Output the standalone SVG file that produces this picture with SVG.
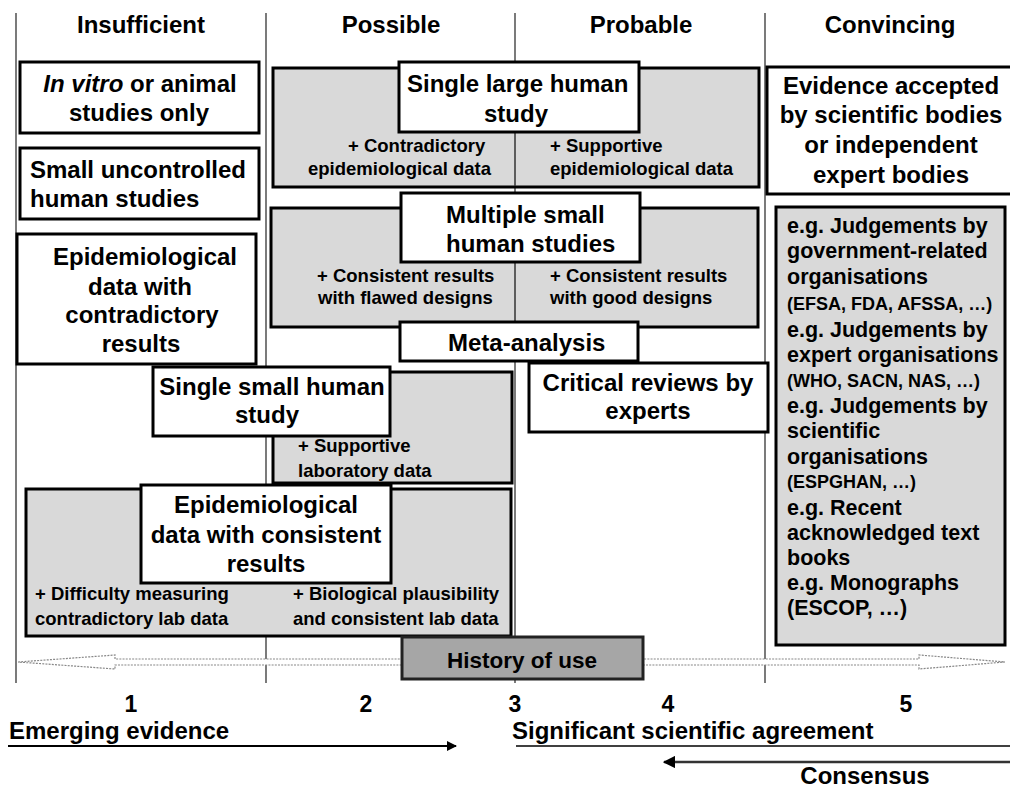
<svg xmlns="http://www.w3.org/2000/svg" width="1010" height="787" viewBox="0 0 1010 787">
<defs>
<style>
.t{font-family:"Liberation Sans",Arial,Helvetica,sans-serif;font-weight:bold;fill:#000}
.h{font-size:24px;text-anchor:middle}
.b{font-size:24px}
.c{text-anchor:middle}
.s{font-size:18.5px}
.r{font-size:21.5px}
.p{font-size:18px}
.n{font-size:23px;text-anchor:middle}
.wb{fill:#fff;stroke:#000;stroke-width:3}
.gb{fill:#d9d9d9;stroke:#000;stroke-width:3}
.col{stroke:#333;stroke-width:1.3;fill:none}
.div{stroke:#333;stroke-width:1.5}
</style>
<marker id="ah" viewBox="0 0 10 10" refX="9" refY="5" markerWidth="5" markerHeight="5" orient="auto-start-reverse" markerUnits="strokeWidth">
<path d="M0,0 L10,5 L0,10 z" fill="#000"/>
</marker>
</defs>
<rect width="1010" height="787" fill="#fff"/>

<g id="columns">
<line class="col" x1="16" y1="13" x2="16" y2="683"/>
<line class="col" x1="266" y1="13" x2="266" y2="683"/>
<line class="col" x1="515" y1="13" x2="515" y2="683"/>
<line class="col" x1="765" y1="13" x2="765" y2="683"/>
</g>

<g id="headers" class="t h">
<text x="141" y="33">Insufficient</text>
<text x="391" y="33">Possible</text>
<text x="641" y="33">Probable</text>
<text x="890" y="33">Convincing</text>
</g>

<g id="in-vitro">
<rect class="wb" x="20" y="62" width="239" height="71"/>
<text class="t b c" x="140" y="92"><tspan font-style="italic">In vitro</tspan> or animal</text>
<text class="t b c" x="139" y="121">studies only</text>
</g>

<g id="small-uncontrolled">
<rect class="wb" x="20" y="148" width="239" height="71"/>
<text class="t b" x="30" y="178">Small uncontrolled</text>
<text class="t b" x="30" y="207">human studies</text>
</g>

<g id="epi-contradictory">
<rect class="wb" x="17" y="234" width="239" height="130"/>
<text class="t b c" x="145" y="265">Epidemiological</text>
<text class="t b c" x="140" y="295">data with</text>
<text class="t b c" x="142" y="323">contradictory</text>
<text class="t b c" x="141" y="352">results</text>
</g>

<g id="single-large-group">
<rect class="gb" x="273" y="68" width="486" height="119"/>
<line class="div" x1="515" y1="69" x2="515" y2="186"/>
<text class="t s" x="348" y="152">+ Contradictory</text>
<text class="t s" x="308" y="175">epidemiological data</text>
<text class="t s" x="550" y="152">+ Supportive</text>
<text class="t s" x="550" y="175">epidemiological data</text>
</g>
<g id="single-large">
<rect class="wb" x="399" y="62" width="240" height="70"/>
<text class="t b" x="407" y="92">Single large human</text>
<text class="t b" x="484" y="122">study</text>
</g>

<g id="multiple-small-group">
<rect class="gb" x="271" y="208" width="487" height="119"/>
<line class="div" x1="515" y1="209" x2="515" y2="326"/>
<text class="t s" x="317" y="282">+ Consistent results</text>
<text class="t s" x="318" y="304">with flawed designs</text>
<text class="t s" x="550" y="282">+ Consistent results</text>
<text class="t s" x="550" y="304">with good designs</text>
</g>
<g id="multiple-small">
<rect class="wb" x="401" y="193" width="239" height="69"/>
<text class="t b" x="446" y="223">Multiple small</text>
<text class="t b" x="446" y="252">human studies</text>
</g>

<g id="meta-analysis">
<rect class="wb" x="400" y="322" width="238" height="39"/>
<text class="t b" x="448" y="351">Meta-analysis</text>
</g>

<g id="single-small-group">
<rect class="gb" x="273" y="372" width="239" height="111"/>
<text class="t s" x="298" y="452">+ Supportive</text>
<text class="t s" x="298" y="477">laboratory data</text>
</g>
<g id="single-small">
<rect class="wb" x="153" y="367" width="237" height="69"/>
<text class="t b c" x="272" y="395">Single small human</text>
<text class="t b c" x="267" y="423">study</text>
</g>

<g id="critical-reviews">
<rect class="wb" x="529" y="363" width="239" height="69"/>
<text class="t b c" x="648" y="391">Critical reviews by</text>
<text class="t b c" x="648" y="419">experts</text>
</g>

<g id="epi-consistent-group">
<rect class="gb" x="26" y="489" width="485" height="147"/>
<text class="t s" x="35" y="600">+ Difficulty measuring</text>
<text class="t s" x="35" y="625">contradictory lab data</text>
<text class="t s" x="293" y="600">+ Biological plausibility</text>
<text class="t s" x="293" y="625">and consistent lab data</text>
</g>
<g id="epi-consistent">
<rect class="wb" x="141" y="485" width="250" height="98"/>
<text class="t b c" x="266" y="513">Epidemiological</text>
<text class="t b c" x="266" y="543">data with consistent</text>
<text class="t b c" x="266" y="572">results</text>
</g>

<g id="evidence-accepted">
<rect class="wb" x="767" y="67" width="246" height="127"/>
<text class="t b c" x="891" y="94">Evidence accepted</text>
<text class="t b c" x="891" y="123">by scientific bodies</text>
<text class="t b c" x="891" y="153">or independent</text>
<text class="t b c" x="891" y="183">expert bodies</text>
</g>

<g id="examples">
<rect class="gb" x="776" y="207" width="229" height="438"/>
<text class="t r" x="787" y="233">e.g. Judgements by</text>
<text class="t r" x="787" y="258">government-related</text>
<text class="t r" x="787" y="284">organisations</text>
<text class="t p" x="787" y="310">(EFSA, FDA, AFSSA, …)</text>
<text class="t r" x="787" y="337">e.g. Judgements by</text>
<text class="t r" x="787" y="362">expert organisations</text>
<text class="t p" x="787" y="387">(WHO, SACN, NAS, …)</text>
<text class="t r" x="787" y="413">e.g. Judgements by</text>
<text class="t r" x="787" y="438">scientific</text>
<text class="t r" x="787" y="464">organisations</text>
<text class="t p" x="787" y="488">(ESPGHAN, …)</text>
<text class="t r" x="787" y="515">e.g. Recent</text>
<text class="t r" x="787" y="540">acknowledged text</text>
<text class="t r" x="787" y="565">books</text>
<text class="t r" x="787" y="590">e.g. Monographs</text>
<text class="t r" x="787" y="615">(ESCOP, …)</text>
</g>

<g id="connectors">
<path d="M18,662 L115,655 L115,659 L919,659 L919,655 L1005,662 L919,669 L919,665 L115,665 L115,669 Z" fill="#fff" stroke="#888" stroke-width="1.2" stroke-dasharray="2 1.2"/>
<line x1="8" y1="746" x2="456" y2="746" stroke="#000" stroke-width="2" marker-end="url(#ah)"/>
<line x1="516" y1="746" x2="1010" y2="746" stroke="#000" stroke-width="1.5"/>
<line x1="1010" y1="762" x2="664" y2="762" stroke="#333" stroke-width="2.5" marker-end="url(#ah)"/>
</g>

<g id="history-of-use">
<rect x="402" y="637" width="241" height="42" fill="#a6a6a6" stroke="#222" stroke-width="3"/>
<text class="t c" x="522" y="668" font-size="22.5px">History of use</text>
</g>

<g id="scale" class="t n">
<text x="131" y="712">1</text>
<text x="366" y="712">2</text>
<text x="515" y="712">3</text>
<text x="668" y="712">4</text>
<text x="906" y="712">5</text>
</g>

<g id="bands" class="t b">
<text x="9" y="739">Emerging evidence</text>
<text x="512" y="739">Significant scientific agreement</text>
<text x="865" y="784" text-anchor="middle">Consensus</text>
</g>
</svg>
